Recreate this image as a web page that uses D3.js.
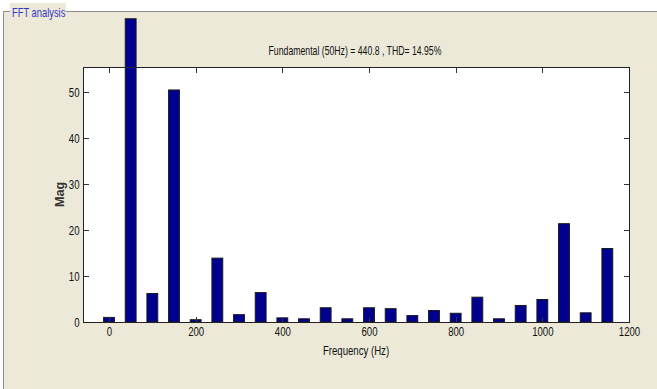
<!DOCTYPE html>
<html>
<head>
<meta charset="utf-8">
<script src="https://cdn.jsdelivr.net/npm/d3@7"></script>
<style>
  html, body { margin: 0; padding: 0; background: #ffffff; }
  svg { display: block; }
  text { font-family: "Liberation Sans Narrow", "Liberation Sans", Arial, sans-serif; }
</style>
</head>
<body>
<svg id="chart" width="657" height="389"></svg>
<script>
// Harmonic spectrum: frequency bins (Hz) and their magnitudes
const frequencies = [0, 50, 100, 150, 200, 250, 300, 350, 400, 450, 500, 550,
                     600, 650, 700, 750, 800, 850, 900, 950, 1000, 1050, 1100, 1150];
const magnitudes  = [1.0, 66.0, 6.2, 50.5, 0.5, 13.9, 1.6, 6.4, 0.9, 0.7, 3.1, 0.7,
                     3.1, 2.9, 1.4, 2.5, 1.9, 5.4, 0.7, 3.6, 4.9, 21.4, 2.0, 16.0];
const xTicks = [0, 200, 400, 600, 800, 1000, 1200];
const yTicks = [0, 10, 20, 30, 40, 50];
const titleText = "Fundamental (50Hz) = 440.8 , THD= 14.95%";
const panelTitle = "FFT analysis";
const xLabel = "Frequency (Hz)";
const yLabel = "Mag";

const svg = d3.select("#chart");
const W = 657, H = 389;
const plot = { left: 83, right: 629, top: 67, bottom: 322 };
const squeeze = 0.74;      // horizontal condensing for the narrow UI font
const tickLen = 5.5;

// Panel frame (beige groupbox with grey top/left edge)
svg.append("rect").attr("x", 0).attr("y", 0).attr("width", W).attr("height", H).attr("fill", "#ffffff");
svg.append("rect").attr("x", 3.5).attr("y", 11.5).attr("width", W).attr("height", H)
   .attr("fill", "#ECE9D8").attr("stroke", "#8c8c8c").attr("stroke-width", 1);
svg.append("rect").attr("x", 10).attr("y", 3).attr("width", 56).attr("height", 14).attr("fill", "#ECE9D8");
svg.append("text").attr("transform", `translate(12,16.5) scale(0.72,1)`)
   .attr("font-size", 13).attr("fill", "#3535C8").text(panelTitle);

const x = d3.scaleLinear().domain([-60, 1200]).range([plot.left, plot.right]);
const y = d3.scaleLinear().domain([0, 55.5]).range([plot.bottom, plot.top]);
const barHalf = 12.5;

// Axes background
svg.append("rect").attr("x", plot.left).attr("y", plot.top)
   .attr("width", plot.right - plot.left).attr("height", plot.bottom - plot.top)
   .attr("fill", "#ffffff");

// Bars
svg.append("g").selectAll("rect").data(frequencies).join("rect")
   .attr("x", (f) => x(f - barHalf))
   .attr("width", (f) => x(f + barHalf) - x(f - barHalf))
   .attr("y", (f, i) => y(magnitudes[i]))
   .attr("height", (f, i) => y(0) - y(magnitudes[i]))
   .attr("fill", "#000090").attr("stroke", "#1a1a1a").attr("stroke-width", 1);

function styleAxis(g) {
  g.select(".domain").remove();
  g.selectAll(".tick line").attr("stroke", "#333").attr("shape-rendering", "crispEdges");
  g.selectAll(".tick text").attr("fill", "#111").attr("font-size", 13);
}

// Bottom axis with labels
const gx = svg.append("g").attr("transform", `translate(0,${plot.bottom})`)
  .call(d3.axisBottom(x).tickValues(xTicks).tickFormat(d3.format("d"))
        .tickSize(-tickLen).tickSizeOuter(0).tickPadding(5));
styleAxis(gx);
gx.selectAll(".tick text").attr("transform", `scale(${squeeze},1)`);

// Top axis, ticks only
const gxt = svg.append("g").attr("transform", `translate(0,${plot.top})`)
  .call(d3.axisTop(x).tickValues(xTicks).tickFormat("").tickSize(-tickLen).tickSizeOuter(0));
styleAxis(gxt);

// Left axis with labels
const gy = svg.append("g").attr("transform", `translate(${plot.left},0)`)
  .call(d3.axisLeft(y).tickValues(yTicks).tickFormat(d3.format("d"))
        .tickSize(-tickLen).tickSizeOuter(0).tickPadding(3));
styleAxis(gy);
gy.selectAll(".tick text").attr("x", -3.5 / squeeze).attr("transform", `scale(${squeeze},1)`);

// Right axis, ticks only
const gyr = svg.append("g").attr("transform", `translate(${plot.right},0)`)
  .call(d3.axisRight(y).tickValues(yTicks).tickFormat("").tickSize(-tickLen).tickSizeOuter(0));
styleAxis(gyr);

// Axes box
svg.append("rect").attr("x", plot.left).attr("y", plot.top)
   .attr("width", plot.right - plot.left).attr("height", plot.bottom - plot.top)
   .attr("fill", "none").attr("stroke", "#222").attr("stroke-width", 1)
   .attr("shape-rendering", "crispEdges");

// Title and axis labels
const cx = (plot.left + plot.right) / 2;
svg.append("text").attr("transform", `translate(${cx - 1},54.5) scale(0.67,1)`)
   .attr("text-anchor", "middle").attr("font-size", 13).attr("fill", "#111").text(titleText);
svg.append("text").attr("transform", `translate(${cx},355) scale(${squeeze},1)`)
   .attr("text-anchor", "middle").attr("font-size", 13).attr("fill", "#111").text(xLabel);
svg.append("text").attr("transform", `translate(64,${(plot.top + plot.bottom) / 2}) rotate(-90) scale(1.05,1)`)
   .attr("text-anchor", "middle").attr("font-size", 12).attr("font-weight", "bold")
   .attr("fill", "#333").text(yLabel);
</script>
</body>
</html>
